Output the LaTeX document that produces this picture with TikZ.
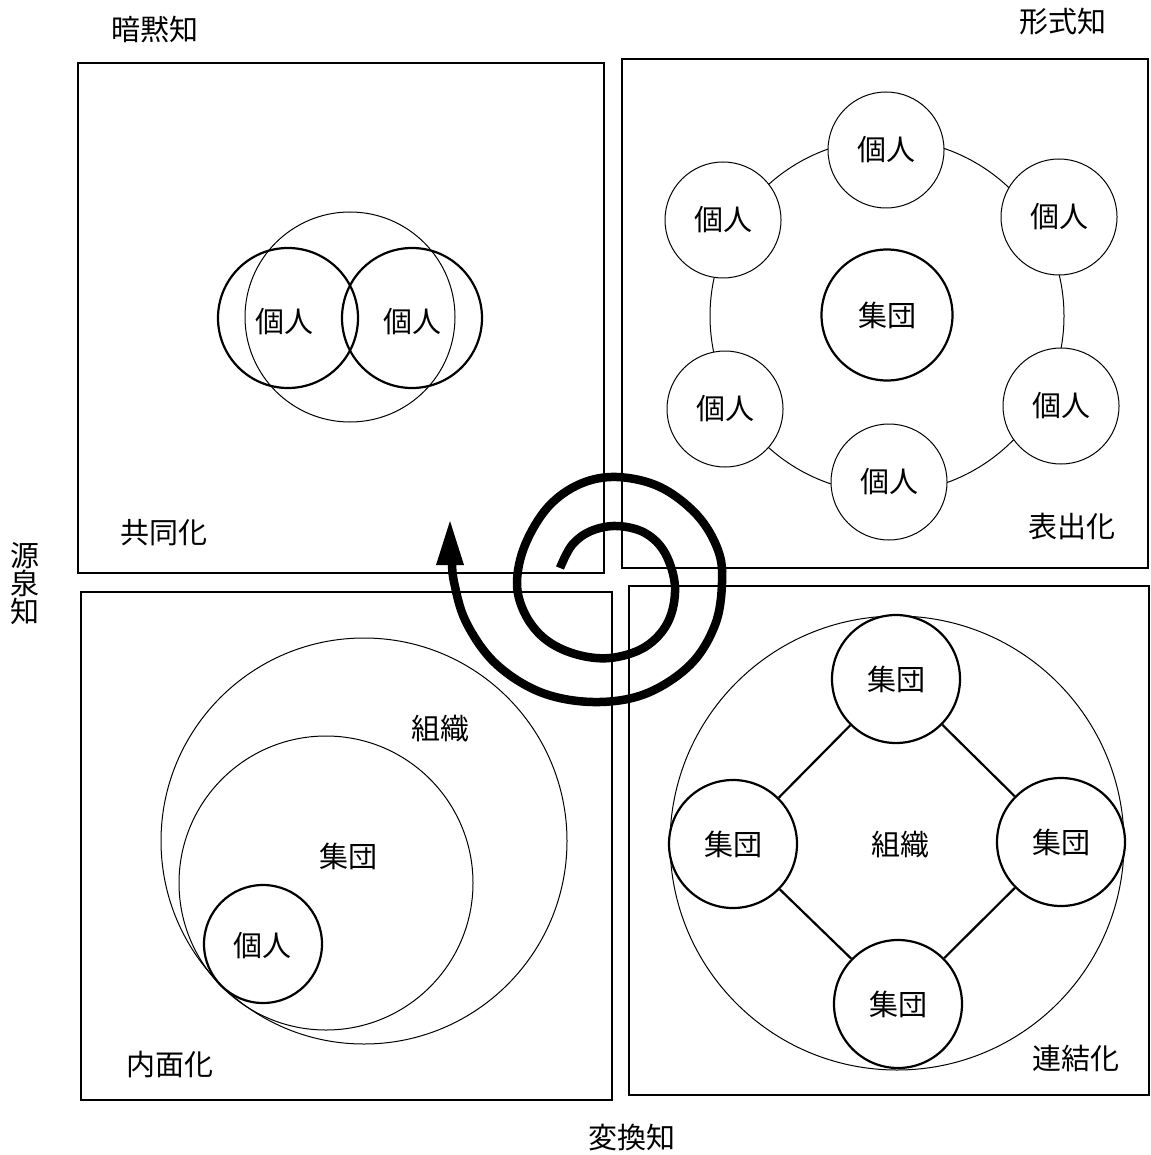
\documentclass[tikz,border=0pt]{standalone}
\usepackage{fontspec}
\setmainfont{Noto Sans CJK JP}
\usetikzlibrary{arrows.meta}
\newcommand{\lab}{\fontsize{29}{32}\selectfont}
\tikzset{
  boxline/.style={draw, line width=1.5pt},
  thinc/.style={draw, line width=1pt},
  lbl/.style={inner sep=0pt, font=\lab},
  person/.style={circle, draw, fill=white, line width=1pt, minimum size=116pt, inner sep=0pt, font=\lab},
  group/.style={circle, draw, fill=white, line width=2.2pt, minimum size=#1, inner sep=0pt, font=\lab},
  spiral/.style={line width=8.5pt, line cap=butt, line join=round}
}
\begin{document}
\begin{tikzpicture}[x=1pt,y=-1pt]
\useasboundingbox (0,0) rectangle (1150,1155);
% quadrant boxes
\draw[boxline] (78,63) rectangle (604,573);
\draw[boxline] (622,59) rectangle (1148,568);
\draw[boxline] (81,592) rectangle (612,1100);
\draw[boxline] (629,586) rectangle (1149,1095);

% axis and corner labels
\node[lbl] (tacit) at (155,29) {暗黙知};
\node[lbl] (explicit) at (1063,22) {形式知};
\node[lbl] (source) at (25,584) [align=center, font=\fontsize{29}{28}\selectfont] {源\\泉\\知};
\node[lbl] (convert) at (632,1137) {変換知};
\node[lbl] (soc) at (164,533) {共同化};
\node[lbl] (ext) at (1072,526) {表出化};
\node[lbl] (int) at (170,1064) {内面化};
\node[lbl] (comb) at (1076,1058) {連結化};

% --- top-left: socialization
\draw[thinc] (350,317) circle[radius=105];
\node[group=140pt, fill=none] (sa) at (288,318) {};
\node[group=140pt, fill=none] (sb) at (412,318) {};
\node[lbl] (sal) at (284,322) {個人};
\node[lbl] (sbl) at (412,322) {個人};

% --- top-right: externalization
\draw[thinc] (887,316) circle[radius=177];
\node[person] (p1) at (886,150) {個人};
\node[person] (p2) at (1059,217) {個人};
\node[person] (p3) at (1061,406) {個人};
\node[person] (p4) at (889,482) {個人};
\node[person] (p5) at (725,409) {個人};
\node[person] (p6) at (723,220) {個人};
\node[group=131pt] (g0) at (887,315) {集団};

% --- bottom-left: internalization
\draw[thinc] (364,841) circle[radius=203];
\draw[thinc] (326,883) circle[radius=147];
\node[group=118pt, fill=none] (ip) at (263,944) {};
\node[lbl] (ipl) at (262,946) {個人};
\node[lbl] (igl) at (348,856) {集団};
\node[lbl] (iol) at (440,729) {組織};

% --- bottom-right: combination
\draw[thinc] (897,843) circle[radius=227];
\node[group=128pt] (gt) at (896,679) {集団};
\node[group=128pt] (gl) at (733,844) {集団};
\node[group=128pt] (gr) at (1061,842) {集団};
\node[group=128pt] (gb) at (898,1004) {集団};
\node[lbl] (org) at (900,845) {組織};
\draw[line width=2.2pt] (gt) -- (gl);
\draw[line width=2.2pt] (gt) -- (gr);
\draw[line width=2.2pt] (gl) -- (gb);
\draw[line width=2.2pt] (gr) -- (gb);

% --- spiral
\draw[spiral] plot[smooth, tension=0.6] coordinates {
 (560,568) (572,545) (591,531) (617,526) (645,533) (665,553) (675,587)
 (668,622) (645,647) (610,658) (575,654) (545,639) (525,614) (517,583)
 (525,545) (548,507) (580,484) (617,477) (660,487) (697,515) (718,550)
 (722,583) (715,625) (690,665) (645,694) (593,702) (540,692) (495,663)
 (466,622) (454,582) (452,560)};
\fill (450,521) -- (464,565) -- (436,565) -- cycle;
\end{tikzpicture}
\end{document}
